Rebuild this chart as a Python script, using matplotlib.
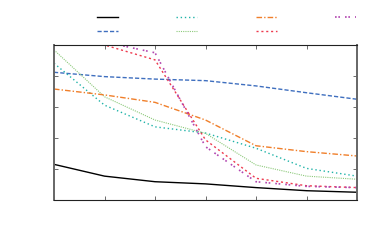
import numpy as np
import matplotlib
matplotlib.use('Agg')
import matplotlib.pyplot as plt

# values (no axis labels are shown)
x = [0, 1, 2, 3, 4, 5, 6]
s_black = [1.15, 0.77, 0.59, 0.52, 0.40, 0.30, 0.25]
s_blue = [4.12, 3.98, 3.90, 3.85, 3.68, 3.46, 3.25]
s_teal = [4.41, 3.06, 2.36, 2.16, 1.67, 1.02, 0.77]
s_green = [4.84, 3.33, 2.58, 2.15, 1.13, 0.77, 0.67]
s_orange = [3.58, 3.39, 3.15, 2.58, 1.75, 1.56, 1.42]
s_red = [5.2, 5.0, 4.52, 1.94, 0.70, 0.46, 0.40]
s_purple = [5.3, 5.1, 4.75, 1.72, 0.59, 0.44, 0.40]

fig = plt.figure(figsize=(3.89, 2.45), dpi=100)
ax = fig.add_axes([54/389, 45/245, 303/389, 155/245])

h = []
h += ax.plot(x, s_black, color='black', lw=1.0, ls='-')
h += ax.plot(x, s_blue, color='#3f6fbf', lw=1.0, ls=(0, (3, 1.5)))
h += ax.plot(x, s_teal, color='#1fb3a8', lw=1.0, ls=(0, (1, 2)))
h += ax.plot(x, s_green, color='#8cc97a', lw=0.8, ls=(0, (1, 1)))
h += ax.plot(x, s_orange, color='#f07f2a', lw=1.0, ls=(0, (4, 1.5, 1, 1.5)))
h += ax.plot(x, s_red, color='#ee3a4e', lw=1.0, ls=(0, (1.5, 2, 1.5, 2)))
h += ax.plot(x, s_purple, color='#b246b0', lw=1.2, ls=(0, (1, 1, 1, 3)))

ax.set_xlim(0, 6)
ax.set_ylim(0, 5)
ax.set_xticks(x)
ax.set_yticks(range(6))
ax.set_xticklabels([])
ax.set_yticklabels([])
ax.tick_params(direction='in', top=True, right=True, length=3, width=0.6, color='#555555')
for side in ['left', 'right']:
    ax.spines[side].set_linewidth(1.4)
    ax.spines[side].set_color('#666666')
for side in ['top', 'bottom']:
    ax.spines[side].set_linewidth(0.8)
    ax.spines[side].set_color('#222222')

fig.legend(h, [' '] * 7, ncol=4, frameon=False, loc='upper left',
           bbox_to_anchor=(97/389, 1 - 11/245), borderpad=0, borderaxespad=0,
           handlelength=1.5, handletextpad=0.4, columnspacing=3.5,
           labelspacing=0.02, fontsize=10)

fig.savefig('out.png', dpi=100)
